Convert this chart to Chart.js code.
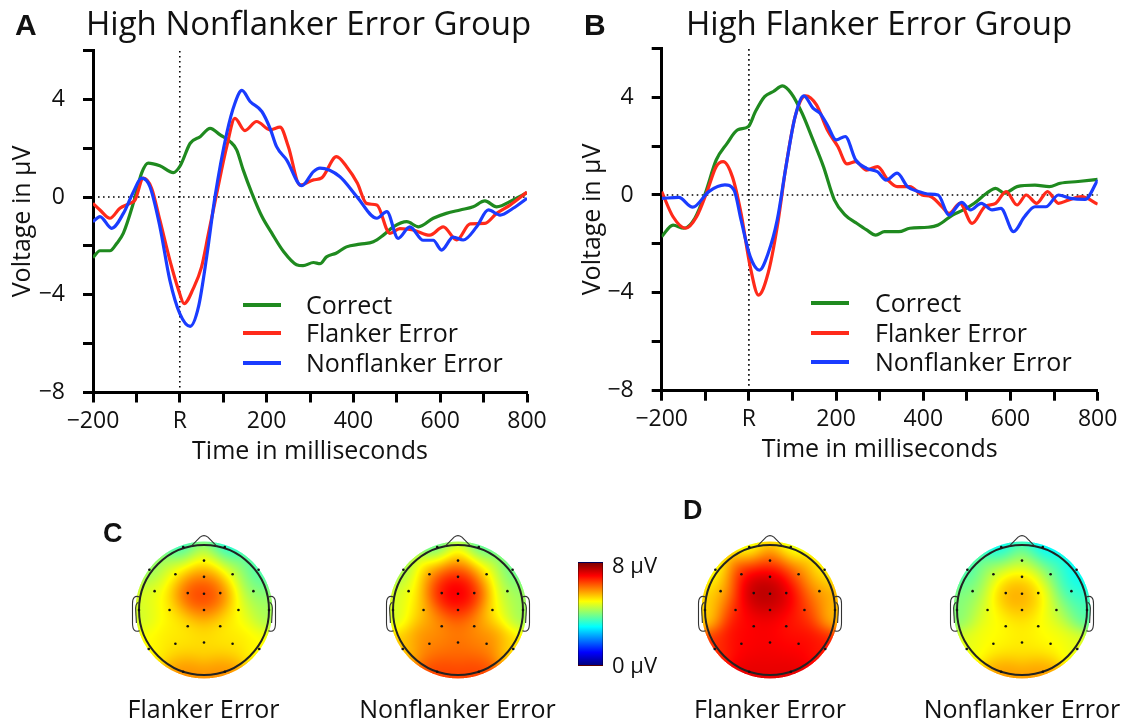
<!DOCTYPE html>
<html>
<head>
<meta charset="utf-8">
<script src="https://cdn.jsdelivr.net/npm/chart.js@4.4.1/dist/chart.umd.min.js"></script>
<style>
  body { margin: 0; background: #fff; }
  #fig { position: relative; width: 1131px; height: 723px; overflow: hidden; background: #fff; }
  #fig canvas, .txt, .leg-line, .cbar { position: absolute; }
  .txt { white-space: nowrap; line-height: 1; color: #111; font-family: 'Open Sans', sans-serif; }
  .bold { font-family: 'Liberation Sans', Arial, sans-serif; font-weight: bold; }
  .cbar { left: 578px; top: 562px; width: 25px; height: 104px; box-sizing: border-box; border: 1px solid rgba(0,0,0,0.35);
    background: linear-gradient(to bottom, #800000 0%, #ff0000 12.5%, #ffff00 37.5%, #00ffff 62.5%, #0000ff 87.5%, #000080 100%); }
</style>
</head>
<body>
<div id="fig">
  <canvas id="erpA" width="560" height="470" style="left:0;top:0"></canvas>
  <canvas id="erpB" width="561" height="470" style="left:570px;top:0"></canvas>
  <canvas id="headC1" width="190" height="190"></canvas>
  <canvas id="headC2" width="190" height="190"></canvas>
  <canvas id="headD1" width="190" height="190"></canvas>
  <canvas id="headD2" width="190" height="190"></canvas>
  <div class="cbar"></div>
</div>
<script>
// ---- waveform data (time in ms, voltage in µV) ----
const seriesNames = ['Correct', 'Flanker Error', 'Nonflanker Error'];
const seriesColors = ['#1f8a1f', '#ff2a1a', '#1a3cff'];

const xTickValues = [-200, 0, 200, 400, 600, 800];
const xTickLabels = ['\u2212200', 'R', '200', '400', '600', '800'];
const yTickValues = [4, 0, -4, -8];
const yTickLabels = ['4', '0', '\u22124', '\u22128'];

// panel A: High Nonflanker Error Group
const aCorrectT = [-200,-184,-161,-145,-130,-107,-88,-73,-46,-15,1,24,47,70,93,116,131,146,166,189,212,239,269,284,308,323,338,360,384,415,446,469,492,523,550,584,614,646,676,703,730,768,800];
const aCorrectV = [-2.48,-2.2,-2.2,-1.89,-1.48,-0.25,0.98,1.39,1.28,1.0,1.28,2.2,2.47,2.81,2.54,2.27,1.93,1.11,0.16,-0.79,-1.48,-2.23,-2.77,-2.81,-2.68,-2.73,-2.45,-2.3,-2.04,-1.93,-1.83,-1.56,-1.22,-1.01,-1.22,-0.87,-0.67,-0.53,-0.4,-0.16,-0.4,-0.12,0.18];
const aFlankerT = [-200,-184,-161,-138,-115,-103,-84,-65,-46,-23,-3,10,31,50,66,85,108,127,150,177,208,231,250,277,308,327,361,384,409,430,454,484,507,538,576,607,638,669,703,730,761,800];
const aFlankerV = [-0.26,-0.53,-0.87,-0.46,-0.26,-0.12,0.77,0.36,-0.94,-2.58,-3.8,-4.36,-3.75,-2.87,-1.5,0.14,2.05,3.22,2.72,3.09,2.75,2.86,2.07,0.49,0.7,0.78,1.65,1.25,0.57,-0.26,-0.33,-1.49,-1.29,-1.35,-1.56,-1.22,-1.76,-1.1,-1.08,-0.67,-0.33,0.2];
const aNonflankerT = [-200,-184,-157,-130,-107,-88,-69,-46,-23,0,24,43,62,81,108,127,143,162,189,208,223,246,281,308,323,369,408,454,477,503,530,561,584,603,630,653,684,711,738,768,800];
const aNonflankerV = [-1.01,-0.8,-1.28,-0.67,0.21,0.77,0.43,-1.2,-3.4,-4.77,-5.29,-4.5,-2.44,0.0,2.6,3.84,4.36,3.91,3.5,2.81,2.06,1.52,0.46,1.04,1.18,0.83,0.01,-0.87,-0.6,-1.69,-1.22,-1.77,-1.77,-2.17,-1.64,-1.76,-1.22,-0.53,-0.74,-0.46,-0.05];

// panel B: High Flanker Error Group
const bCorrectT = [-200,-174,-149,-124,-100,-75,-50,-26,-1,15,36,56,77,97,122,147,171,196,221,245,270,291,311,344,369,410,434,467,492,517,545,566,586,615,656,689,714,755,800];
const bCorrectV = [-1.7,-1.23,-1.36,-0.95,0.07,1.43,2.11,2.66,2.8,3.41,4.02,4.23,4.46,4.16,3.34,2.25,1.16,-0.2,-0.82,-1.13,-1.43,-1.64,-1.5,-1.5,-1.36,-1.32,-1.23,-0.82,-0.61,-0.34,0.07,0.27,0.07,0.34,0.4,0.34,0.48,0.55,0.64];
const bFlankerT = [-200,-174,-145,-120,-96,-75,-59,-38,-18,3,22,44,65,85,106,130,155,180,204,225,245,270,295,319,340,369,397,418,443,459,484,512,541,566,590,615,636,660,685,710,734,763,800];
const bFlankerV = [0.14,-0.89,-1.36,-0.89,0.14,1.16,1.36,0.75,-0.75,-2.93,-4.09,-3.2,-1.3,1.16,3.2,4.05,3.68,2.66,1.98,1.27,1.36,1.02,1.16,0.61,0.34,0.34,0.0,-0.07,-0.48,-0.75,-0.34,-1.16,-0.48,-0.34,0.14,-0.41,0.0,-0.34,0.14,-0.34,-0.2,-0.07,-0.37];
const bNonflankerT = [-200,-161,-129,-92,-55,-34,-18,3,24,44,65,85,106,126,147,163,180,200,221,245,270,295,315,340,364,389,410,434,459,488,508,533,558,578,607,632,656,681,710,738,771,800];
const bNonflankerV = [-0.14,-0.1,-0.5,0.14,0.41,0.2,-1.02,-2.52,-3.07,-2.39,-1.02,1.16,3.2,4.05,3.55,3.34,2.86,2.25,2.39,1.43,1.09,0.95,0.61,0.89,0.34,0.14,0.04,0.0,-0.82,-0.3,-0.61,-0.34,-0.61,-0.55,-1.5,-0.89,-0.48,-0.48,0.0,-0.14,-0.18,0.61];

// ---- scalp maps: electrode positions (unit head radius) and mean amplitude in µV ----
const elecX = [0,-0.44,0,0.44,-0.76,-0.25,0,0.25,0.76,-0.53,0,0.53,-0.25,0.25,-0.44,0,0.44,-0.32,0.32,-0.84,0.84,-1.0,1.0,-0.85,0.85,-0.32,0.32];
const elecY = [0.76,0.55,0.51,0.55,0.29,0.26,0.25,0.26,0.29,0,0,0,-0.25,-0.25,-0.52,-0.5,-0.52,0.97,0.97,0.62,0.62,0,0,-0.6,-0.6,-0.95,-0.95];
const mapC1 = [5.0,4.9,6.0,4.5,4.9,6.5,7.1,6.2,4.0,5.0,6.0,4.9,5.1,5.1,5.2,5.3,5.2,3.2,3.0,3.9,3.4,4.6,4.3,5.0,5.0,5.9,5.9];
const mapC2 = [5.6,5.8,7.0,5.0,4.8,7.0,7.7,6.8,4.3,5.4,6.6,5.0,5.8,5.8,6.0,6.2,6.0,3.4,3.4,4.0,3.6,4.6,4.2,5.4,5.2,6.5,6.5];
const mapD1 = [6.2,7.0,7.5,6.0,5.4,7.6,7.9,7.2,5.8,6.8,7.2,6.6,7.0,6.8,7.0,7.1,7.0,4.5,4.5,4.6,4.8,5.2,5.4,6.6,6.8,7.2,7.2];
const mapD2 = [4.3,4.5,5.3,3.8,4.0,5.7,6.1,5.2,3.2,4.8,5.4,4.5,5.0,5.0,5.0,5.2,5.0,2.8,2.7,3.4,2.9,4.0,3.6,4.8,4.8,5.8,5.8];
const colorMin = 0, colorMax = 8;

const FONT = "'Open Sans', sans-serif";
const fig = document.getElementById('fig');

function text(str, x, baseline, size, opts = {}) {
  const d = document.createElement('div');
  d.className = 'txt' + (opts.bold ? ' bold' : '');
  d.textContent = str;
  d.style.fontSize = size + 'px';
  const asc = opts.bold ? 0.8465 : 0.888;
  d.style.top = (baseline - asc * size) + 'px';
  d.style.left = x + 'px';
  if (opts.center) d.style.transform = 'translateX(-50%)';
  fig.appendChild(d);
}

function legend(lineX, textX, rowsY) {
  seriesNames.forEach((name, i) => {
    const l = document.createElement('div');
    l.className = 'leg-line';
    l.style.left = lineX + 'px';
    l.style.top = (rowsY[i] - 1.7) + 'px';
    l.style.width = '38px';
    l.style.height = '3.4px';
    l.style.background = seriesColors[i];
    fig.appendChild(l);
    text(name, textX, rowsY[i] + 9, 25);
  });
}

function erpChart(id, times, values, box) {
  const datasets = times.map((t, i) => ({
    label: seriesNames[i],
    data: t.map((x, j) => ({ x: x, y: values[i][j] })),
    borderColor: seriesColors[i],
    borderWidth: 3.2,
    cubicInterpolationMode: 'monotone',
    pointRadius: 0,
    order: 3 - i
  }));
  datasets.push({ label: 'baseline', data: [{ x: -200, y: 0 }, { x: 800, y: 0 }],
    borderColor: '#000', borderWidth: 1.6, borderDash: [1.6, 3.4], pointRadius: 0, tension: 0, order: 10 });
  datasets.push({ label: 'response', data: [{ x: 0, y: -8 }, { x: 0, y: 6 }],
    borderColor: '#000', borderWidth: 1.6, borderDash: [1.6, 3.4], pointRadius: 0, tension: 0, order: 10 });

  const tickFont = { family: FONT, size: 23 };
  const titleFont = { family: FONT, size: 25 };
  new Chart(document.getElementById(id), {
    type: 'line',
    data: { datasets: datasets },
    options: {
      responsive: false,
      animation: false,
      layout: { padding: { left: 0, right: box.padRight, top: box.top, bottom: 0 } },
      plugins: { legend: { display: false }, tooltip: { enabled: false } },
      scales: {
        x: {
          type: 'linear', min: -200, max: 800,
          ticks: {
            stepSize: 100, autoSkip: false, maxRotation: 0, color: '#111', font: tickFont, padding: 5,
            callback: v => { const k = xTickValues.indexOf(v); return k >= 0 ? xTickLabels[k] : ''; }
          },
          grid: { drawOnChartArea: false, tickLength: 10, tickWidth: 3, tickColor: '#000' },
          border: { color: '#000', width: 3 },
          title: { display: true, text: 'Time in milliseconds', color: '#111', font: titleFont, padding: { top: 0, bottom: box.xTitlePad } },
          afterFit: s => { s.height = box.xHeight; }
        },
        y: {
          min: -8, max: 6,
          ticks: {
            stepSize: 2, color: '#111', font: tickFont, padding: 18,
            callback: v => { const k = yTickValues.indexOf(v); return k >= 0 ? yTickLabels[k] : ''; }
          },
          grid: { drawOnChartArea: false, tickLength: 10, tickWidth: 3, tickColor: '#000' },
          border: { color: '#000', width: 3 },
          title: { display: true, text: 'Voltage in \u00b5V', color: '#111', font: titleFont, padding: { top: 8, bottom: 0 } },
          afterFit: s => { s.width = box.yWidth; }
        }
      }
    }
  });
}

erpChart('erpA', [aCorrectT, aFlankerT, aNonflankerT], [aCorrectV, aFlankerV, aNonflankerV],
  { top: 50.4, padRight: 33, yWidth: 93, xHeight: 77.5, xTitlePad: 3.6 });
erpChart('erpB', [bCorrectT, bFlankerT, bNonflankerT], [bCorrectV, bFlankerV, bNonflankerV],
  { top: 48.2, padRight: 33.3, yWidth: 91.7, xHeight: 79.3, xTitlePad: 5.6 });

// ---- scalp topography ----
function jet(t) {
  const c = v => Math.max(0, Math.min(1, v));
  return [c(1.5 - Math.abs(4 * t - 3)), c(1.5 - Math.abs(4 * t - 2)), c(1.5 - Math.abs(4 * t - 1))].map(v => Math.round(v * 255));
}

const headPlugin = {
  id: 'head',
  beforeDatasetsDraw(chart, args, opts) {
    const { ctx, chartArea: a, scales: { x, y } } = chart;
    const w = Math.round(a.right - a.left), h = Math.round(a.bottom - a.top);
    const off = document.createElement('canvas');
    off.width = w; off.height = h;
    const octx = off.getContext('2d');
    const img = octx.createImageData(w, h);
    const vals = opts.values, s2 = 2 * 0.21 * 0.21;
    for (let py = 0; py < h; py++) {
      const v = y.getValueForPixel(a.top + py + 0.5);
      for (let px = 0; px < w; px++) {
        const u = x.getValueForPixel(a.left + px + 0.5);
        if (u * u + v * v > 1.12) continue;
        let sw = 0, sv = 0;
        for (let k = 0; k < elecX.length; k++) {
          const dx = u - elecX[k], dy = v - elecY[k];
          const wt = Math.exp(-(dx * dx + dy * dy) / s2) + 1e-9;
          sw += wt; sv += wt * vals[k];
        }
        const col = jet((sv / sw - colorMin) / (colorMax - colorMin));
        const i = (py * w + px) * 4;
        img.data[i] = col[0]; img.data[i + 1] = col[1]; img.data[i + 2] = col[2]; img.data[i + 3] = 255;
      }
    }
    octx.putImageData(img, 0, 0);
    const P = (u, v) => [x.getPixelForValue(u), y.getPixelForValue(v)];
    const R = x.getPixelForValue(1) - x.getPixelForValue(0);
    const [cx, cy] = P(0, 0);
    ctx.save();
    ctx.beginPath();
    ctx.arc(cx, cy, R * 1.055, 0, Math.PI * 2);
    ctx.clip();
    ctx.drawImage(off, a.left, a.top);
    ctx.restore();

    ctx.save();
    ctx.strokeStyle = '#222';
    ctx.lineWidth = 2;
    ctx.beginPath();
    ctx.arc(cx, cy, R, 0, Math.PI * 2);
    ctx.stroke();
    ctx.lineWidth = 1.1;
    ctx.strokeStyle = '#333';
    // nose
    ctx.beginPath();
    ctx.moveTo(...P(-0.2, 0.98));
    ctx.lineTo(...P(-0.06, 1.12));
    ctx.quadraticCurveTo(...P(0, 1.17), ...P(0.06, 1.12));
    ctx.lineTo(...P(0.2, 0.98));
    ctx.stroke();
    // ears
    [-1, 1].forEach(sd => {
      ctx.beginPath();
      ctx.moveTo(...P(sd * 0.99, 0.2));
      ctx.quadraticCurveTo(...P(sd * 1.1, 0.24), ...P(sd * 1.1, 0.1));
      ctx.lineTo(...P(sd * 1.1, -0.2));
      ctx.quadraticCurveTo(...P(sd * 1.1, -0.36), ...P(sd * 0.99, -0.32));
      ctx.stroke();
      ctx.beginPath();
      ctx.moveTo(...P(sd * 1.01, 0.12));
      ctx.quadraticCurveTo(...P(sd * 1.06, 0.1), ...P(sd * 1.05, -0.02));
      ctx.lineTo(...P(sd * 1.04, -0.2));
      ctx.stroke();
    });
    ctx.restore();
  }
};

function headChart(id, cx, cy, values) {
  const el = document.getElementById(id);
  el.style.left = (cx - 95) + 'px';
  el.style.top = (cy - 95) + 'px';
  new Chart(el, {
    type: 'scatter',
    data: { datasets: [{ data: elecX.map((u, k) => ({ x: u, y: elecY[k] })), pointRadius: 1.3,
      pointBackgroundColor: '#111', pointBorderWidth: 0 }] },
    options: {
      responsive: false, animation: false,
      layout: { padding: 0 },
      plugins: { legend: { display: false }, tooltip: { enabled: false }, head: { values: values } },
      scales: { x: { display: false, min: -1.4, max: 1.4 }, y: { display: false, min: -1.4, max: 1.4 } }
    },
    plugins: [headPlugin]
  });
}

headChart('headC1', 203.5, 610, mapC1);
headChart('headC2', 457.5, 610, mapC2);
headChart('headD1', 770, 610, mapD1);
headChart('headD2', 1022, 610, mapD2);

// ---- labels ----
text('A', 15, 35, 30, { bold: true });
text('High Nonflanker Error Group', 86, 35, 33);
text('B', 584, 35, 30, { bold: true });
text('High Flanker Error Group', 686, 35, 33);
legend(243, 306, [305, 333, 363]);
legend(811, 875, [303, 333, 362]);

text('C', 103, 543, 27, { bold: true });
text('D', 683, 520, 27, { bold: true });
text('Flanker Error', 203.5, 718, 25, { center: true });
text('Nonflanker Error', 457.5, 718, 25, { center: true });
text('Flanker Error', 770, 718, 25, { center: true });
text('Nonflanker Error', 1022, 718, 25, { center: true });
text('8 \u00b5V', 612, 573, 22);
text('0 \u00b5V', 612, 673, 22);
</script>
</body>
</html>
